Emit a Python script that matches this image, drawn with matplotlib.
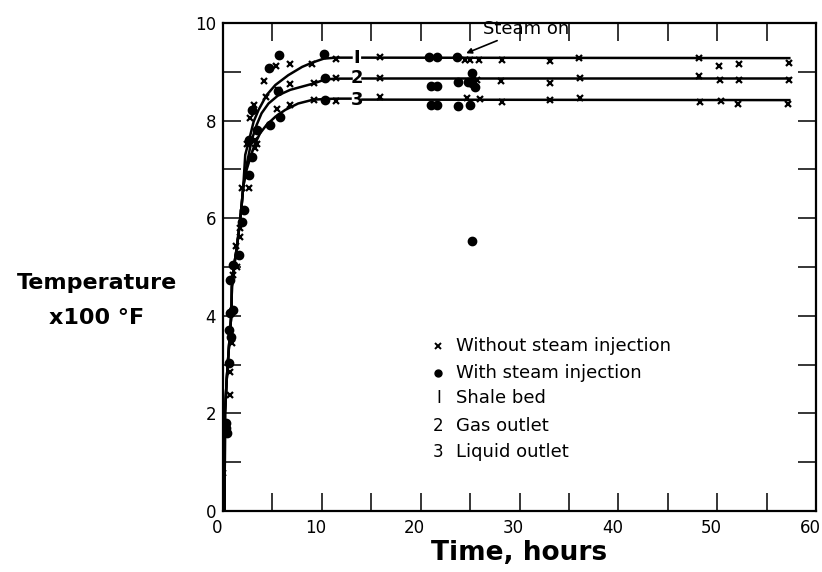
import numpy as np
import matplotlib.pyplot as plt
import matplotlib.transforms as mtransforms

# fitted curves, hours vs 100 F
curve_rise_t = [0.15, 0.18, 0.2, 0.37, 0.6, 0.85, 0.9, 1.1, 1.4, 1.7, 1.9, 2.05]
curve_rise_T = [0.0, 1.0, 2.0, 2.68, 3.36, 4.05, 4.6, 5.0, 5.4, 5.9, 6.3, 6.65]

c1_t = [2.25, 2.6, 3.1, 3.6, 4.4, 5.3, 6.6, 8.0, 9.05, 10.2, 11.4, 13.0]
c1_T = [7.3, 7.57, 7.98, 8.22, 8.52, 8.73, 8.93, 9.1, 9.19, 9.27, 9.29, 9.29]
c2_t = [2.4, 2.9, 3.4, 3.9, 4.6, 5.6, 6.8, 9.15, 10.3, 11.35, 13.0]
c2_T = [7.1, 7.6, 7.91, 8.15, 8.35, 8.52, 8.63, 8.76, 8.84, 8.86, 8.86]
c3_t = [2.4, 2.9, 3.25, 3.75, 4.4, 5.3, 6.3, 7.6, 9.15, 10.2, 11.35, 12.9]
c3_T = [7.0, 7.33, 7.53, 7.74, 7.91, 8.08, 8.22, 8.35, 8.43, 8.44, 8.45, 8.45]

plateau_t = [14.1, 57.3]
plateau_T = {'1': [9.29, 9.28], '2': [8.87, 8.87], '3': [8.43, 8.42]}
label_t = 13.55

# without steam injection (x)
nosteam_t = [0.0, 0.7, 0.7, 0.9, 1.0, 1.4, 1.3, 1.7, 1.7, 1.9, 2.6, 2.4, 3.4, 3.2, 3.2,
             2.7, 3.1, 4.3, 4.1, 5.4, 6.8, 5.5, 5.6, 6.8, 6.8, 9.0, 9.2, 9.2,
             11.4, 11.4, 11.4, 15.9, 15.9, 15.9,
             24.5, 25.0, 25.9, 28.2, 33.1, 36.0, 48.2, 50.2, 52.2, 57.3,
             25.7, 28.1, 33.1, 36.1, 48.2, 50.3, 52.2, 57.3,
             24.7, 26.0, 28.2, 33.1, 36.1, 48.3, 50.4, 52.1, 57.2]
nosteam_T = [0.77, 2.38, 2.85, 3.44, 4.84, 5.0, 5.43, 5.62, 5.79, 6.61, 6.61, 7.53, 7.53, 7.43, 7.6,
             8.05, 8.32, 8.49, 8.82, 9.12, 9.15, 8.23, 8.63, 8.76, 8.32, 9.17, 8.78, 8.42,
             9.27, 8.87, 8.41, 9.31, 8.88, 8.49,
             9.24, 9.24, 9.24, 9.24, 9.22, 9.28, 9.28, 9.11, 9.16, 9.19,
             8.83, 8.81, 8.78, 8.87, 8.91, 8.83, 8.83, 8.83,
             8.46, 8.44, 8.39, 8.42, 8.46, 8.39, 8.40, 8.34, 8.33]

# with steam injection (dots)
steam_t = [0.3, 0.37, 0.3, 0.64, 0.64, 0.78, 0.7, 1.0, 0.7, 1.0, 1.6, 1.9, 2.1, 2.6, 2.9,
           2.6, 3.4, 2.9, 4.8, 5.8, 5.6, 4.7, 5.7, 10.2, 10.3, 10.3,
           20.8, 21.7, 23.7, 21.0, 21.7, 21.0, 21.7, 23.8, 23.8,
           25.2, 25.2, 25.5, 25.0, 24.8, 25.2]
steam_T = [1.80, 1.59, 1.70, 3.03, 3.71, 3.57, 4.05, 4.12, 4.73, 5.04, 5.25, 5.93, 6.17, 6.89, 7.26,
           7.6, 7.8, 8.22, 7.91, 8.08, 8.6, 9.07, 9.34, 9.36, 8.88, 8.42,
           9.31, 9.31, 9.31, 8.71, 8.71, 8.32, 8.32, 8.8, 8.29,
           8.97, 8.78, 8.68, 8.32, 8.8, 5.53]

legend_lines = ['Without steam injection', 'With steam injection',
                'Shale bed', 'Gas outlet', 'Liquid outlet']
legend_keys = ['x', 'o', 'I', '2', '3']

fig = plt.figure(figsize=(8.22, 5.72), dpi=100)
ax = fig.add_axes([0.2713, 0.1066, 0.7214, 0.8532])

lw = 1.8
for ct, cT in [(c1_t, c1_T), (c2_t, c2_T), (c3_t, c3_T)]:
    ax.plot(curve_rise_t + ct, curve_rise_T + cT, color='black', lw=lw)
for k in ['1', '2', '3']:
    ax.plot(plateau_t, plateau_T[k], color='black', lw=lw)
    ax.text(label_t, plateau_T[k][0], k if k != '1' else 'I', ha='center', va='center',
            fontsize=13, fontweight='bold')

ax.plot(nosteam_t, nosteam_T, ls='none', marker='x', ms=5, mew=1.6, color='black')
ax.plot(steam_t, steam_T, ls='none', marker='o', ms=6, color='black')

ax.annotate('Steam on', xy=(24.6, 9.38), xytext=(26.3, 9.88), fontsize=13,
            va='center', ha='left',
            arrowprops=dict(arrowstyle='-|>', color='black', lw=1.2,
                            shrinkA=0, shrinkB=0, mutation_scale=8))

# legend block drawn as text
leg_y = [3.38, 2.83, 2.31, 1.74, 1.21]
for i, (key, txt) in enumerate(zip(legend_keys, legend_lines)):
    if key == 'x':
        ax.plot(21.8, leg_y[i], marker='x', ms=4, mew=1.4, color='black')
    elif key == 'o':
        ax.plot(21.8, leg_y[i], marker='o', ms=5, color='black')
    else:
        ax.text(21.8, leg_y[i], key, ha='center', va='center', fontsize=12)
    ax.text(23.6, leg_y[i], txt, ha='left', va='center', fontsize=13)

ax.set_xlim(0, 60)
ax.set_ylim(0, 10)
ax.set_xticks(np.arange(0, 61, 5))
ax.set_xticklabels([str(v) if v % 10 == 0 else '' for v in range(0, 61, 5)])
ax.set_yticks(np.arange(0, 11, 1))
ax.set_yticklabels([str(v) if v % 2 == 0 else '' for v in range(0, 11)])
ax.tick_params(direction='in', length=13, width=1.1, top=True, right=True,
               labelsize=12)
ax.tick_params(axis='x', pad=6)
ax.tick_params(axis='y', pad=5)
shift = mtransforms.ScaledTranslation(-6 / 100, 0, fig.dpi_scale_trans)
for lab in ax.get_xticklabels():
    lab.set_transform(lab.get_transform() + shift)
for s in ax.spines.values():
    s.set_linewidth(1.6)

fig.text(519 / 822, 1 - 553 / 572, 'Time, hours', ha='center', va='center',
         fontsize=19, fontweight='bold')
fig.text(97 / 822, 1 - 283 / 572, 'Temperature', ha='center', va='center',
         fontsize=16, fontweight='bold')
fig.text(97 / 822, 1 - 318 / 572, 'x100 °F', ha='center', va='center',
         fontsize=16, fontweight='bold')

fig.savefig('out.png', dpi=100)
